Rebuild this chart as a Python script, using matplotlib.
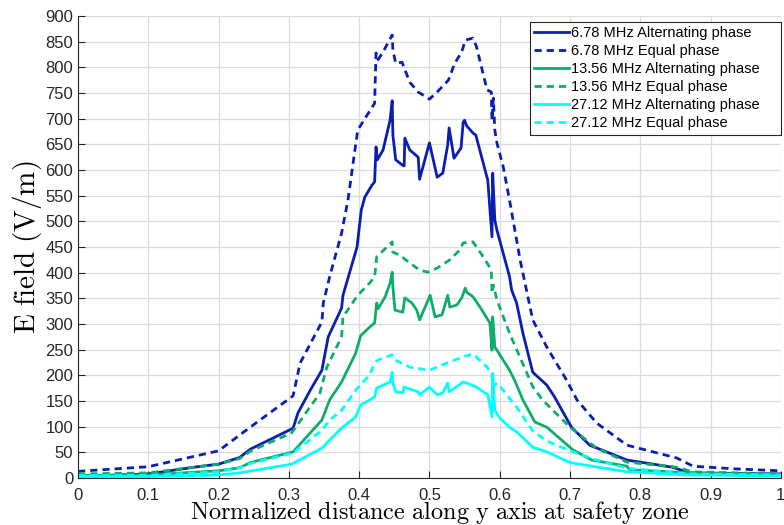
import matplotlib
matplotlib.use("Agg")
import matplotlib.pyplot as plt

plt.rcParams['font.family'] = ['Liberation Sans', 'DejaVu Sans']
plt.rcParams['mathtext.fontset'] = 'cm'

# 6.78 MHz
x_678_alt = [0, 0.02, 0.1, 0.17, 0.2, 0.23, 0.245, 0.306, 0.313, 0.33, 0.347, 0.356, 0.375, 0.377,
             0.397, 0.403, 0.408, 0.418, 0.422, 0.424, 0.426, 0.434, 0.444, 0.447, 0.448, 0.452,
             0.461, 0.464, 0.465, 0.472, 0.484, 0.486, 0.500, 0.511, 0.519, 0.526, 0.528, 0.535,
             0.545, 0.548, 0.550, 0.553, 0.562, 0.566, 0.583, 0.589, 0.590, 0.593, 0.596, 0.614,
             0.617, 0.624, 0.633, 0.647, 0.667, 0.678, 0.702, 0.728, 0.781, 0.846, 0.870, 1.0]
y_678_alt = [6, 4, 8, 22, 27, 40, 56, 97, 127, 170, 210, 275, 331, 356,
             450, 522, 547, 570, 577, 645, 620, 639, 697, 735, 668, 620,
             610, 608, 662, 639, 625, 582, 653, 586, 594, 649, 682, 623,
             643, 693, 697, 686, 672, 668, 580, 470, 594, 503, 483, 392,
             366, 341, 282, 206, 181, 158, 99, 64, 35, 21, 10, 8]

x_678_eq = [0, 0.1, 0.2, 0.245, 0.306, 0.316, 0.347, 0.349, 0.358, 0.375, 0.384, 0.398, 0.404,
            0.422, 0.424, 0.427, 0.434, 0.447, 0.448, 0.452, 0.461, 0.472, 0.484, 0.500, 0.511,
            0.527, 0.536, 0.546, 0.551, 0.562, 0.567, 0.582, 0.588, 0.589, 0.591, 0.593, 0.596,
            0.605, 0.614, 0.629, 0.647, 0.667, 0.695, 0.710, 0.738, 0.781, 0.852, 0.875, 0.932, 1.0]
y_678_eq = [13, 22, 53, 99, 160, 224, 304, 341, 392, 477, 541, 678, 691,
            730, 828, 815, 830, 863, 834, 808, 810, 771, 752, 738, 752,
            775, 808, 830, 853, 857, 840, 756, 752, 697, 740, 678, 653,
            606, 541, 425, 308, 255, 191, 152, 107, 64, 39, 23, 18, 14]

# 13.56 MHz
x_1356_alt = [0, 0.1, 0.2, 0.23, 0.245, 0.306, 0.347, 0.358, 0.375, 0.395, 0.402, 0.415, 0.422,
              0.425, 0.427, 0.437, 0.444, 0.447, 0.448, 0.451, 0.462, 0.465, 0.475, 0.482, 0.486,
              0.501, 0.508, 0.518, 0.526, 0.529, 0.539, 0.546, 0.551, 0.553, 0.562, 0.572, 0.586,
              0.589, 0.590, 0.593, 0.596, 0.614, 0.621, 0.633, 0.650, 0.667, 0.704, 0.731, 0.781,
              0.785, 0.870, 1.0]
y_1356_alt = [5, 6, 14, 20, 30, 51, 113, 152, 187, 243, 277, 294, 302,
              341, 330, 353, 380, 401, 372, 327, 323, 351, 341, 327, 308,
              356, 314, 318, 356, 333, 337, 351, 370, 362, 353, 333, 302,
              249, 314, 255, 249, 210, 191, 152, 109, 99, 55, 35, 23,
              16, 10, 6]

x_1356_eq = [0, 0.1, 0.2, 0.23, 0.245, 0.304, 0.344, 0.354, 0.375, 0.377, 0.398, 0.415, 0.422,
             0.425, 0.432, 0.447, 0.448, 0.458, 0.472, 0.486, 0.498, 0.511, 0.529, 0.543, 0.548,
             0.562, 0.575, 0.582, 0.588, 0.589, 0.591, 0.596, 0.614, 0.647, 0.661, 0.700, 0.738,
             0.781, 0.852, 0.875, 1.0]
y_1356_eq = [8, 10, 27, 38, 52, 88, 165, 216, 275, 314, 356, 380, 392,
             431, 440, 460, 440, 434, 419, 405, 401, 409, 425, 444, 458,
             460, 434, 419, 405, 360, 376, 347, 282, 178, 152, 99, 58,
             31, 21, 12, 8]

# 27.12 MHz
x_2712_alt = [0, 0.1, 0.2, 0.23, 0.304, 0.347, 0.358, 0.375, 0.395, 0.402, 0.415, 0.422, 0.425,
              0.444, 0.447, 0.448, 0.452, 0.462, 0.464, 0.484, 0.486, 0.500, 0.511, 0.519, 0.526,
              0.528, 0.548, 0.553, 0.567, 0.583, 0.589, 0.590, 0.593, 0.600, 0.614, 0.624, 0.647,
              0.667, 0.700, 0.781, 0.870, 1.0]
y_2712_alt = [3, 3, 6, 10, 27, 58, 74, 97, 119, 142, 152, 158, 175,
              187, 206, 185, 168, 166, 177, 168, 162, 177, 162, 166, 185,
              168, 187, 185, 177, 162, 119, 204, 132, 117, 99, 90, 60,
              51, 30, 12, 6, 4]

x_2712_eq = [0, 0.1, 0.2, 0.23, 0.245, 0.306, 0.347, 0.358, 0.375, 0.395, 0.415, 0.422, 0.427,
             0.447, 0.451, 0.472, 0.500, 0.525, 0.548, 0.562, 0.582, 0.589, 0.590, 0.596, 0.605,
             0.624, 0.647, 0.667, 0.704, 0.738, 0.781, 0.870, 1.0]
y_2712_eq = [5, 5, 12, 20, 28, 49, 93, 113, 132, 171, 201, 224, 230,
             240, 230, 216, 210, 224, 236, 242, 216, 204, 177, 185, 171,
             138, 92, 72, 51, 35, 19, 8, 6]

blue = '#0a1fb0'
green = '#0fad68'
cyan = '#00ffff'
dash = (2.6, 1.8)

fig = plt.figure(figsize=(7.84, 5.25), dpi=100)
ax = fig.add_axes([0.0995, 0.0895, 0.8965, 0.88])

ax.plot(x_678_alt, y_678_alt, color=blue, lw=2, label='6.78 MHz Alternating phase')
ax.plot(x_678_eq, y_678_eq, color=blue, lw=2, dashes=dash, label='6.78 MHz Equal phase')
ax.plot(x_1356_alt, y_1356_alt, color=green, lw=2, label='13.56 MHz Alternating phase')
ax.plot(x_1356_eq, y_1356_eq, color=green, lw=2, dashes=dash, label='13.56 MHz Equal phase')
ax.plot(x_2712_alt, y_2712_alt, color=cyan, lw=2, label='27.12 MHz Alternating phase')
ax.plot(x_2712_eq, y_2712_eq, color=cyan, lw=2, dashes=dash, label='27.12 MHz Equal phase')

ax.set_xlim(0, 1)
ax.set_ylim(0, 900)
ax.set_xticks([i / 10 for i in range(11)])
ax.set_xticklabels(['0', '0.1', '0.2', '0.3', '0.4', '0.5', '0.6', '0.7', '0.8', '0.9', '1'])
ax.set_yticks(range(0, 901, 50))
ax.grid(True, color='#dcdcdc', lw=0.9)
ax.set_axisbelow(True)
ax.tick_params(direction='in', labelsize=12, length=5, width=0.8, colors='#262626')
ax.tick_params(axis='x', pad=7)
for s in ['top', 'right']:
    ax.spines[s].set_visible(False)
for s in ['left', 'bottom']:
    ax.spines[s].set_color('#262626')

ax.set_xlabel(r'$\mathrm{Normalized\ distance\ along\ y\ axis\ at\ safety\ zone}$',
              fontsize=17.5)
ax.xaxis.set_label_coords(0.515, -0.046)
ax.set_ylabel(r'$\mathrm{E\ field\ (V/m)}$', fontsize=21, labelpad=1)

leg = ax.legend(loc='upper right', bbox_to_anchor=(0.643, 0.0, 0.357, 0.988),
                mode='expand', borderaxespad=0,
                fontsize=10.5, handlelength=2.4, handletextpad=0.1, labelspacing=0.28,
                fancybox=False, framealpha=1, borderpad=0.3)
leg.get_frame().set_edgecolor('#262626')
leg.get_frame().set_linewidth(0.8)

fig.savefig('out.png', dpi=100)
